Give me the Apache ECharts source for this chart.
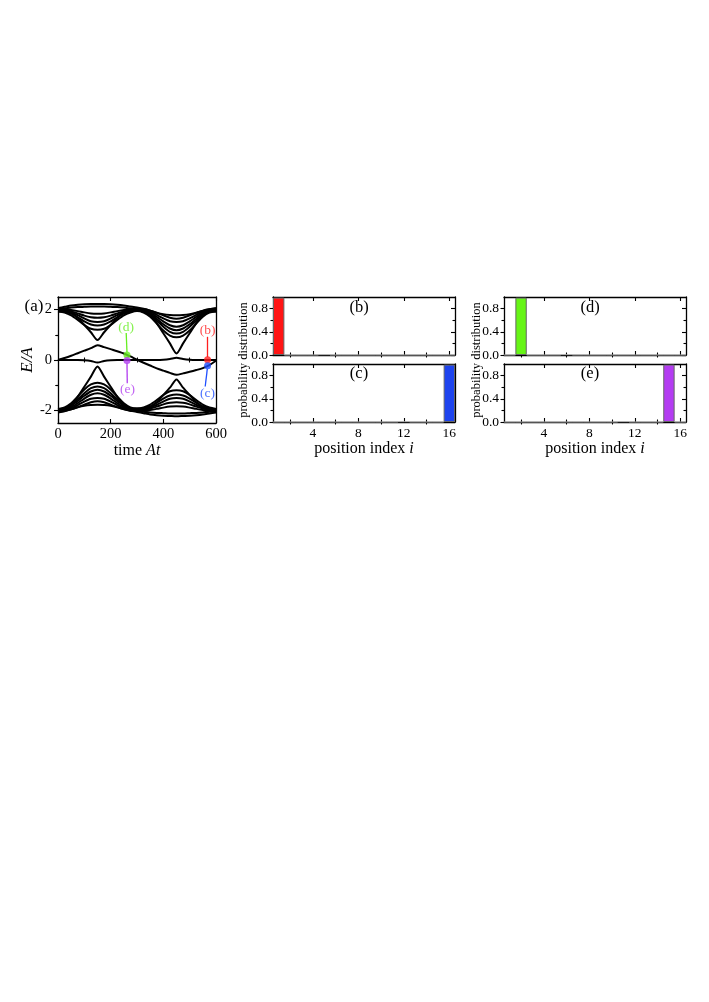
<!DOCTYPE html>
<html><head><meta charset="utf-8">
<script src="https://cdn.jsdelivr.net/npm/echarts@6/dist/echarts.min.js"></script>
<style>html,body{margin:0;padding:0;background:#fff}#c{width:709px;height:1002px}</style>
</head><body><div id="c"></div>
<script>
// ---------- data: panel (a) spectrum E/A vs time At ----------
const T  = [0,25,50,75,100,125,150,175,200,225,250,275,300,325,350,375,400,425,450,475,500,525,550,575,600];
const U1 = [1.92,1.93,1.88,1.68,1.39,1.10,0.79,1.10,1.39,1.68,1.88,1.93,1.95,1.93,1.80,1.46,1.06,0.66,0.26,0.66,1.06,1.46,1.80,1.93,1.92];
const U2 = [1.92,1.88,1.77,1.59,1.39,1.24,1.20,1.24,1.39,1.59,1.77,1.88,1.94,1.88,1.72,1.45,1.17,0.97,0.90,0.97,1.17,1.45,1.72,1.88,1.92];
const U3 = [1.95,1.92,1.84,1.69,1.53,1.41,1.37,1.41,1.53,1.69,1.84,1.92,1.96,1.91,1.78,1.56,1.32,1.12,1.05,1.12,1.32,1.56,1.78,1.91,1.95];
const U4 = [1.97,1.95,1.89,1.78,1.65,1.54,1.51,1.54,1.65,1.78,1.89,1.95,1.98,1.94,1.82,1.63,1.42,1.25,1.18,1.25,1.42,1.63,1.82,1.94,1.97];
const U5 = [1.99,1.98,1.93,1.85,1.76,1.70,1.68,1.70,1.76,1.85,1.93,1.98,2.00,1.97,1.87,1.71,1.53,1.38,1.32,1.38,1.53,1.71,1.87,1.97,1.99];
const U6 = [2.01,2.00,1.98,1.94,1.89,1.85,1.84,1.85,1.89,1.94,1.98,2.00,2.02,1.99,1.92,1.79,1.65,1.54,1.51,1.54,1.65,1.79,1.92,1.99,2.01];
const U7 = [2.03,2.05,2.08,2.10,2.11,2.12,2.12,2.12,2.11,2.10,2.08,2.05,2.04,2.02,1.96,1.87,1.77,1.68,1.64,1.68,1.77,1.87,1.96,2.01,2.03];
const U8 = [2.06,2.11,2.16,2.19,2.21,2.22,2.22,2.22,2.21,2.19,2.16,2.12,2.08,2.03,1.96,1.88,1.82,1.79,1.78,1.79,1.82,1.88,1.95,2.01,2.06];
const L1 = [-1.95,-1.93,-1.80,-1.46,-1.06,-0.66,-0.26,-0.66,-1.06,-1.46,-1.80,-1.93,-1.92,-1.93,-1.88,-1.68,-1.39,-1.10,-0.77,-1.10,-1.39,-1.68,-1.88,-1.93,-1.95];
const L2 = [-1.94,-1.88,-1.72,-1.45,-1.17,-0.97,-0.90,-0.97,-1.17,-1.45,-1.72,-1.88,-1.92,-1.88,-1.77,-1.59,-1.39,-1.24,-1.20,-1.24,-1.39,-1.59,-1.77,-1.88,-1.94];
const L3 = [-1.96,-1.91,-1.78,-1.56,-1.32,-1.12,-1.05,-1.12,-1.32,-1.56,-1.78,-1.91,-1.95,-1.92,-1.84,-1.69,-1.53,-1.41,-1.37,-1.41,-1.53,-1.69,-1.84,-1.92,-1.96];
const L4 = [-1.98,-1.94,-1.82,-1.63,-1.42,-1.25,-1.18,-1.25,-1.42,-1.63,-1.82,-1.94,-1.97,-1.95,-1.89,-1.78,-1.65,-1.54,-1.51,-1.54,-1.65,-1.78,-1.89,-1.95,-1.98];
const L5 = [-2.00,-1.97,-1.87,-1.71,-1.53,-1.38,-1.32,-1.38,-1.53,-1.71,-1.87,-1.97,-1.99,-1.98,-1.93,-1.85,-1.76,-1.70,-1.68,-1.70,-1.76,-1.85,-1.93,-1.98,-2.00];
const L6 = [-2.02,-1.99,-1.92,-1.79,-1.65,-1.54,-1.51,-1.54,-1.65,-1.79,-1.92,-1.99,-2.01,-2.00,-1.98,-1.94,-1.89,-1.85,-1.84,-1.85,-1.89,-1.94,-1.98,-2.00,-2.02];
const L7 = [-2.04,-2.02,-1.96,-1.87,-1.77,-1.68,-1.64,-1.68,-1.77,-1.87,-1.96,-2.01,-2.03,-2.05,-2.08,-2.10,-2.11,-2.12,-2.12,-2.12,-2.11,-2.10,-2.08,-2.05,-2.04];
const L8 = [-2.08,-2.03,-1.96,-1.88,-1.82,-1.79,-1.78,-1.79,-1.82,-1.88,-1.95,-2.01,-2.06,-2.11,-2.16,-2.19,-2.21,-2.22,-2.23,-2.22,-2.21,-2.19,-2.16,-2.12,-2.08];
const E1 = [0.00,0.08,0.17,0.27,0.37,0.47,0.59,0.51,0.43,0.35,0.26,0.14,0.01,-0.11,-0.22,-0.33,-0.42,-0.51,-0.59,-0.53,-0.47,-0.40,-0.32,-0.20,-0.03];
const E2 = [0,0,0,0,-0.01,-0.04,-0.10,-0.04,-0.01,0,0,0,0,0,0,0,0.01,0.04,0.09,0.04,0.01,0,0,0,0];

// marked states in (a)
const MARK_NAMES = ['(d)','(e)','(b)','(c)'];
const MARK_T     = [262, 262, 568, 568];
const MARK_E     = [0.20, -0.02, 0.01, -0.23];
const MARK_COLOR = ['#66ee22','#b23cf0','#ff1f1f','#1f4fff'];
const LABEL_T    = [259, 264, 568, 568];
const LABEL_E    = [1.29, -1.18, 1.16, -1.34];
const ARROW_FROM = [[259,1.07],[263,-0.92],[568,0.92],[559,-1.05]];
const ARROW_TO   = [[262,0.30],[262,-0.13],[568,0.12],[567,-0.35]];

// ---------- data: probability distributions ----------
const SITES  = ['1','2','3','4','5','6','7','8','9','10','11','12','13','14','15','16'];
const PROB_B = [0.99,0,0,0,0.012,0,0,0,0,0,0,0,0,0,0,0];
const PROB_C = [0,0,0,0,0,0,0,0,0,0,0,0.012,0,0,0,0.99];
const PROB_D = [0,0.99,0,0,0,0.012,0,0,0,0,0,0,0,0,0,0];
const PROB_E = [0,0,0,0,0,0,0,0,0,0,0.012,0,0,0,0.99,0];

// ---------- ticks ----------
const A_XTICKS = [0,200,400,600];
const A_XMINOR = [100,300,500];
const A_YTICKS = [-2,0,2];
const A_YMINOR = [-1,1];
const P_YTICKS = [0,0.4,0.8];
const P_YMINOR = [0.2,0.6];
const P_XTICKS = ['4','8','12','16'];
const P_XMINOR = ['2','6','10','14'];

const FONT = '"Liberation Serif","Times New Roman",serif';
const chart = echarts.init(document.getElementById('c'), null, {renderer:'canvas'});

const grids = [
  {left:58,  top:297, width:158, height:126},
  {left:273, top:297, width:182, height:58},
  {left:273, top:364, width:182, height:58},
  {left:504, top:297, width:182, height:58},
  {left:504, top:364, width:182, height:58}
];

const xAxes = [], yAxes = [];
const LINE = {show:true, onZero:false, lineStyle:{color:'#000', width:1.3}};
function vAxis(list, o){
  const ax = {
    type:'value', gridIndex:o.g, position:o.pos, min:o.min, max:o.max, offset:0,
    axisLine: o.line ? LINE : {show:false},
    axisTick:{show:true, inside:o.inside, length:o.len, customValues:o.ticks, lineStyle:{color:'#000', width:1.1}},
    axisLabel: o.labels ? {show:true, customValues:o.ticks, margin:o.margin, color:'#000', fontFamily:FONT, fontSize:o.fs || 13.5,
                           formatter: o.fmt || (v => String(v))} : {show:false},
    splitLine:{show:false}, minorTick:{show:false}
  };
  if (o.name) Object.assign(ax, o.name);
  list.push(ax); return list.length - 1;
}
function cAxis(list, o){
  const ax = {
    type:'category', gridIndex:o.g, position:o.pos, data:SITES, boundaryGap:true, offset:0,
    axisLine: o.line ? LINE : {show:false},
    axisTick:{show:true, alignWithLabel:true, inside:true, length:o.len,
              interval:(i) => o.ticks.indexOf(SITES[i]) >= 0, lineStyle:{color:'#000', width:1.1}},
    axisLabel: o.labels ? {show:true, margin:4, color:'#000', fontFamily:FONT, fontSize:13.5,
              interval:(i) => P_XTICKS.indexOf(SITES[i]) >= 0} : {show:false},
    splitLine:{show:false}
  };
  if (o.name) Object.assign(ax, o.name);
  list.push(ax); return list.length - 1;
}
function richName(parts, gap){
  return {
    name: parts, nameLocation:'middle', nameGap:gap,
    nameTextStyle:{color:'#000', fontFamily:FONT, fontSize:16,
      rich:{r:{fontFamily:FONT, fontSize:16, color:'#000'}, i:{fontFamily:FONT, fontSize:16, fontStyle:'italic', color:'#000'}}}
  };
}

// panel (a) axes
const ax0 = vAxis(xAxes,{g:0,pos:'bottom',min:0,max:600,ticks:A_XTICKS,labels:true,margin:4,len:4,inside:true,line:true,fs:14.5,
                         name:richName('{r|time }{i|At}',17)});
vAxis(xAxes,{g:0,pos:'bottom',min:0,max:600,ticks:A_XMINOR,len:2.5,inside:true});
vAxis(xAxes,{g:0,pos:'top',min:0,max:600,ticks:A_XTICKS,len:4,inside:true,line:true});
vAxis(xAxes,{g:0,pos:'top',min:0,max:600,ticks:A_XMINOR,len:2.5,inside:true});
const ay0 = vAxis(yAxes,{g:0,pos:'left',min:-2.5,max:2.5,ticks:A_YTICKS,labels:true,margin:6,len:4,inside:false,line:true,fs:14.5,
                         name:{name:'E/A', nameLocation:'middle', nameGap:16, nameRotate:90,
                               nameTextStyle:{color:'#000', fontFamily:FONT, fontSize:17, fontStyle:'italic'}}});
vAxis(yAxes,{g:0,pos:'left',min:-2.5,max:2.5,ticks:A_YMINOR,len:2.5,inside:false});
vAxis(yAxes,{g:0,pos:'right',min:-2.5,max:2.5,ticks:A_YTICKS,len:4,inside:true,line:true});
vAxis(yAxes,{g:0,pos:'right',min:-2.5,max:2.5,ticks:A_YMINOR,len:2.5,inside:true});

// bar panels axes
const barAx = [];
for (let g = 1; g <= 4; g++){
  const bottomLabels = (g === 2 || g === 4);
  const xi = cAxis(xAxes,{g, pos:'bottom', ticks:P_XTICKS, len:4, labels:bottomLabels, line:true,
                          name: bottomLabels ? richName('{r|position index }{i|i}',16) : null});
  cAxis(xAxes,{g, pos:'bottom', ticks:P_XMINOR, len:2.5});
  cAxis(xAxes,{g, pos:'top', ticks:P_XTICKS, len:4, line:true});
  cAxis(xAxes,{g, pos:'top', ticks:P_XMINOR, len:2.5});
  const yi = vAxis(yAxes,{g, pos:'left', min:0, max:1.0, ticks:P_YTICKS, labels:true, margin:5, len:3.5, inside:false, line:true,
                          fmt: v => v.toFixed(1)});
  vAxis(yAxes,{g, pos:'left', min:0, max:1.0, ticks:P_YMINOR, len:2.5, inside:false});
  vAxis(yAxes,{g, pos:'right', min:0, max:1.0, ticks:P_YTICKS, len:4, inside:true, line:true});
  vAxis(yAxes,{g, pos:'right', min:0, max:1.0, ticks:P_YMINOR, len:2.5, inside:true});
  barAx.push([xi, yi]);
}

const series = [];
[U1,U2,U3,U4,U5,U6,U7,U8,L1,L2,L3,L4,L5,L6,L7,L8,E1,E2].forEach(arr => {
  series.push({type:'line', xAxisIndex:ax0, yAxisIndex:ay0, data:T.map((t,i)=>[t,arr[i]]),
    showSymbol:false, smooth:0.25, lineStyle:{color:'#000', width:2}, silent:true, z:2});
});
// arrows + labels
series.push({type:'scatter', xAxisIndex:ax0, yAxisIndex:ay0, symbolSize:0, z:4, silent:true,
  data: MARK_NAMES.map((n,i)=>({value:[LABEL_T[i],LABEL_E[i]], name:n,
    label:{show:true, position:'inside', formatter:n, color:MARK_COLOR[i], fontFamily:FONT, fontSize:13.5}})),
  markLine:{silent:true, symbol:['none','arrow'], symbolSize:[0,6], animation:false, label:{show:false},
    data: MARK_NAMES.map((n,i)=>[{coord:ARROW_FROM[i], lineStyle:{color:MARK_COLOR[i], width:1.3, type:'solid'}},{coord:ARROW_TO[i]}])}
});
// marked points
series.push({type:'scatter', xAxisIndex:ax0, yAxisIndex:ay0, symbolSize:7, z:5, silent:true,
  data: MARK_NAMES.map((n,i)=>({value:[MARK_T[i],MARK_E[i]], itemStyle:{color:MARK_COLOR[i]}}))});

// bars
const PROBS = [PROB_B, PROB_C, PROB_D, PROB_E];
const BAR_COLORS = ['#ff1414','#1e44ee','#66f516','#b43cf2'];
PROBS.forEach((p,k) => {
  series.push({type:'bar', xAxisIndex:barAx[k][0], yAxisIndex:barAx[k][1], barCategoryGap:'0%', silent:true,
    data: p.map(v => ({value:v, itemStyle: v > 0.5 ? {color:BAR_COLORS[k], borderColor:'#666', borderWidth:1}
                                                    : {color:'#c8c8c8', borderColor:'#aaa', borderWidth:0.6}}))});
});

function txt(x, y, s, size, rot){
  return {type:'text', x, y, rotation: rot || 0, silent:true,
    style:{text:s, fill:'#000', font: size + 'px ' + FONT, align:'center', verticalAlign:'middle',
           textAlign:'center', textVerticalAlign:'middle'}};
}

chart.setOption({
  animation:false,
  backgroundColor:'#fff',
  grid: grids.map(g => Object.assign({containLabel:false, show:false}, g)),
  xAxis: xAxes,
  yAxis: yAxes,
  series,
  graphic: [
    txt(34, 307, '(a)', 17),
    txt(359, 308, '(b)', 16.5),
    txt(359, 374, '(c)', 16.5),
    txt(590, 308, '(d)', 16.5),
    txt(590, 374, '(e)', 16.5),
    txt(244, 360, 'probability distribution', 12.5, Math.PI/2),
    txt(477, 360, 'probability distribution', 12.5, Math.PI/2)
  ]
});
</script>
</body></html>
